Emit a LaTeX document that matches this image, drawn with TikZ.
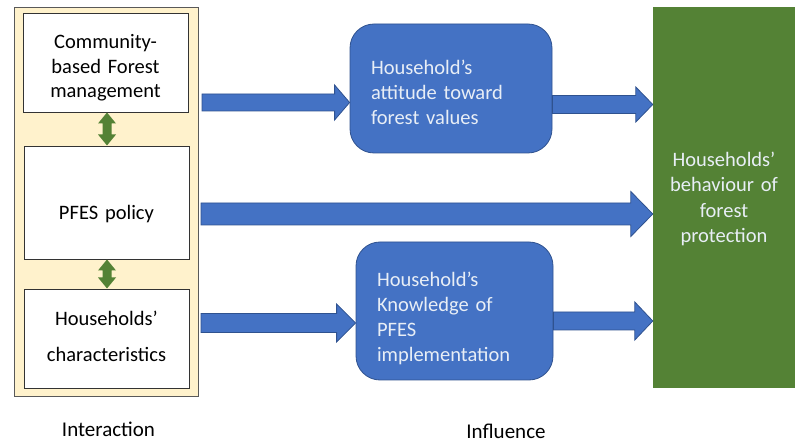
\documentclass[tikz,border=0pt]{standalone}
\usepackage{fontspec}
\setmainfont{Carlito}
\usetikzlibrary{calc}
\definecolor{creamfill}{RGB}{255,242,204}
\definecolor{creamline}{RGB}{89,89,89}
\definecolor{bluefill}{RGB}{68,114,196}
\definecolor{blueline}{RGB}{47,82,143}
\definecolor{greenfill}{RGB}{84,130,53}
\definecolor{lighttext}{RGB}{232,238,246}
\newcommand{\lowc}[2]{\raisebox{-#1}[\height][\depth]{\begin{tabular}{@{}c@{}}#2\end{tabular}}}
\newcommand{\lowl}[2]{\raisebox{-#1}[\height][\depth]{\begin{tabular}{@{}l@{}}#2\end{tabular}}}
\tikzset{
  panel/.style={draw=creamline, fill=creamfill, line width=0.8pt},
  whitebox/.style={draw=black!80, fill=white, line width=0.8pt, minimum width=165pt, text width=150pt, align=center, inner sep=0pt,
     font=\fontsize{20.5}{24.5}\selectfont},
  bluebox/.style={draw=blueline, fill=bluefill, line width=0.8pt, rounded corners=24pt, inner xsep=21pt, inner ysep=0pt, align=left,
     text=lighttext, font=\fontsize{20.5}{25}\selectfont},
  greenbox/.style={fill=greenfill, minimum width=142pt, minimum height=381pt, text width=120pt, align=center, inner sep=0pt,
     text=lighttext, font=\fontsize{20.5}{25.5}\selectfont},
  fatarrow/.style={draw=blueline, fill=bluefill, line width=0.8pt, line join=miter},
  dblarrow/.style={fill=greenfill, draw=none},
  caption/.style={font=\fontsize{21}{25}\selectfont, text=black, anchor=base}
}
\newcommand{\harrowdraw}[5]{%
  \path[fatarrow] let \p1=(#1), \p2=(#2) in
    (\x1,{\y1+#3pt}) -- ({\x2-#5pt},{\y1+#3pt}) -- ({\x2-#5pt},{\y1+#4pt}) -- (\x2,\y1)
    -- ({\x2-#5pt},{\y1-#4pt}) -- ({\x2-#5pt},{\y1-#3pt}) -- (\x1,{\y1-#3pt}) -- cycle;}
\newcommand{\varrowdraw}[5]{%
  \path[dblarrow] let \p1=(#1), \p2=(#2) in
    (\x1,\y1) -- ({\x1+#4pt},{\y1-#5pt}) -- ({\x1+#3pt},{\y1-#5pt}) -- ({\x1+#3pt},{\y2+#5pt})
    -- ({\x1+#4pt},{\y2+#5pt}) -- (\x1,\y2) -- ({\x1-#4pt},{\y2+#5pt}) -- ({\x1-#3pt},{\y2+#5pt})
    -- ({\x1-#3pt},{\y1-#5pt}) -- ({\x1-#4pt},{\y1-#5pt}) -- cycle;}
\begin{document}
\begin{tikzpicture}[x=1pt,y=-1pt]
\useasboundingbox (0,0) rectangle (795,443);
% left panel
\draw[panel] (14,7) rectangle (198,396);
\node[whitebox, minimum height=99pt] (cbfm) at (105.5,62.5) {\lowc{6pt}{Community-\\based Forest\\management}};
\node[whitebox, minimum height=113pt] (pfes) at (106.5,202.5) {\lowc{12pt}{PFES policy}};
\node[whitebox, minimum height=99pt] (hhc) at (106.5,338.5) {\lowc{0pt}{Households’\\[11pt]characteristics}};
% middle boxes
\node[bluebox, minimum width=202pt, minimum height=129pt, text width=160pt] (att) at (451,88.5) {\lowl{6pt}{Household’s\\attitude toward\\forest values}};
\node[bluebox, minimum width=197pt, minimum height=138pt, text width=155pt] (know) at (454.5,311) {\lowl{8pt}{Household’s\\Knowledge of\\PFES\\implementation}};
% right box
\node[greenbox] (beh) at (724,197.5) {\lowc{2pt}{Households’\\behaviour of\\forest\\protection}};
% double arrows
\coordinate (d1t) at (107,112.5);
\coordinate (d1b) at (107,145.5);
\coordinate (d2t) at (107,259.5);
\coordinate (d2b) at (107,288.5);
\varrowdraw{d1t}{d1b}{4.5}{9}{11}
\varrowdraw{d2t}{d2b}{4.5}{9}{11}
% fat arrows
\coordinate (a1s) at (202,102.5);
\coordinate (a1e) at (att.west |- a1s);
\coordinate (a2s) at (att.east |- 0,104.5);
\coordinate (a2e) at (beh.west |- a2s);
\coordinate (a3s) at (201,214);
\coordinate (a3e) at (beh.west |- a3s);
\coordinate (a4s) at (201,323);
\coordinate (a4e) at (know.west |- a4s);
\coordinate (a5s) at (know.east |- 0,321);
\coordinate (a5e) at (beh.west |- a5s);
\harrowdraw{a1s}{a1e}{8.5}{17.5}{15}
\harrowdraw{a2s}{a2e}{9}{17.5}{17}
\harrowdraw{a3s}{a3e}{11}{22.5}{22}
\harrowdraw{a4s}{a4e}{9.5}{19}{19}
\harrowdraw{a5s}{a5e}{9}{19}{18}
% captions
\node[caption] (inter) at (108.5,436) {Interaction};
\node[caption] (infl) at (506,438) {Influence};
\end{tikzpicture}
\end{document}
